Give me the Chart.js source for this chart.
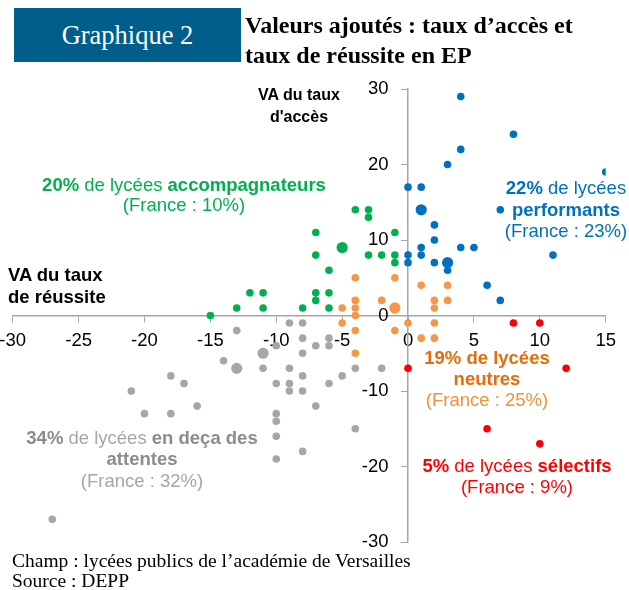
<!DOCTYPE html>
<html lang="fr">
<head>
<meta charset="utf-8">
<title>Graphique 2</title>
<script src="https://cdn.jsdelivr.net/npm/chart.js@4.4.1/dist/chart.umd.min.js"></script>
<style>
  body { margin: 0; background: #fff; }
  #page { position: relative; width: 629px; height: 590px; overflow: hidden; }
  #graph { position: absolute; left: 0; top: 0; }
  .txt { position: absolute; white-space: nowrap; font-family: "Liberation Sans", Arial, sans-serif; font-size: 18.5px; }
  .c { text-align: center; transform: translateX(-50%); }
  .serif { font-family: "Liberation Serif", "Times New Roman", serif; }
  #cartouche { position: absolute; left: 14px; top: 8px; width: 227px; height: 54px; background: #005e8a;
    color: #fff; font: 26.5px "Liberation Serif", serif; text-align: center; line-height: 54px; }
</style>
</head>
<body>
<div id="page">
  <canvas id="graph" width="629" height="590"></canvas>
  <div id="cartouche">Graphique 2</div>
  <div class="txt serif" style="left:245px;top:10px;font-size:24px;font-weight:bold;line-height:30px;">Valeurs ajoutés : taux d’accès et<br>taux de réussite en EP</div>

  <div class="txt c" style="left:299px;top:84px;font-size:16px;font-weight:bold;line-height:22px;color:#000;">VA du taux<br>d'accès</div>
  <div class="txt" style="left:8px;top:264px;font-weight:bold;line-height:22px;color:#000;">VA du taux<br>de réussite</div>

  <div class="txt c" style="left:184px;top:175px;line-height:20px;color:#00b050;"><b>20%</b> de lycées <b>accompagnateurs</b><br>(France : 10%)</div>
  <div class="txt c" style="left:566px;top:177px;line-height:21.5px;color:#0070c0;"><b>22%</b> de lycées<br><b>performants</b><br>(France : 23%)</div>
  <div class="txt c" style="left:487px;top:347px;line-height:21px;color:#f0913a;"><b style="color:#e46c0a">19% de lycées<br>neutres</b><br>(France : 25%)</div>
  <div class="txt c" style="left:517px;top:455px;line-height:21px;color:#ff0000;"><b>5%</b> de lycées <b>sélectifs</b><br>(France : 9%)</div>
  <div class="txt c" style="left:142px;top:427px;line-height:21.3px;color:#a6a6a6;"><b style="color:#8c8c8c">34%</b> de lycées <b style="color:#8c8c8c">en deça des<br>attentes</b><br>(France : 32%)</div>

  <div class="txt serif" style="left:12px;top:551px;font-size:19.5px;line-height:19.5px;color:#000;">Champ : lycées publics de l’académie de Versailles<br>Source : DEPP</div>
</div>
<script>
// VA du taux de réussite (x) / VA du taux d'accès (y), par type de lycée
var performants = [[4,29],[8,24],[4,22],[3,20],[15,19],[0,17],[1,17],[1,14],[7,14],[2,12],[2,10],[1,9],
  [4,9],[5,9],[0,8],[1,8],[11,8],[0,7],[2,7],[3,7],[3,6],[6,4],[7,2]];
var accompagnateurs = [[-15,0],[-13,1],[-12,3],[-11,3],[-11,1],[-8,1],[-7,11],[-7,8],[-7,3],[-7,2],[-6,6],
  [-6,3],[-6,1],[-5,9],[-4,14],[-3,14],[-3,13],[-3,8],[-2,8],[-1,11],[-1,8],[-1,7]];
var neutres = [[-4,5],[-1,5],[1,4],[3,4],[-4,2],[-2,2],[2,2],[3,2],[-5,1],[-4,1],[-1,1],[2,1],[-4,0],
  [-5,-1],[0,-1],[2,-1],[-1,-2],[-4,-2],[1,-3],[2,-3],[-4,-5]];
var enDeca = [[-9,-1],[-8,-1],[-13,-2],[-8,-3],[-6,-3],[-10,-4],[-7,-4],[-6,-4],[-11,-5],[-8,-5],[-14,-6],
  [-13,-7],[-11,-7],[-9,-7],[-4,-7],[-2,-7],[-18,-8],[-8,-8],[-5,-8],[-17,-9],[-10,-9],[-9,-9],[-6,-9],
  [-21,-10],[-9,-10],[-8,-10],[-20,-13],[-18,-13],[-16,-12],[-7,-12],[-10,-13],[-10,-14],[-10,-16],
  [-4,-15],[-8,-18],[-10,-19],[-27,-27]];
var selectifs = [[8,-1],[10,-1],[0,-7],[12,-7],[6,-15],[10,-17]];
// points où deux lycées se superposent
var doublons = [[1,14],[3,7],[-5,9],[-1,1],[-11,-5],[-13,-7]];

var xTicks = [-30, -25, -20, -15, -10, -5, 0, 5, 10, 15];
var yTicks = [-30, -20, -10, 0, 10, 20, 30];

function toPoints(list) {
  return list.map(function(p) { return {x: p[0], y: p[1]}; });
}
function rayon(list) {
  return list.map(function(p) {
    var dbl = doublons.some(function(d) { return d[0] === p[0] && d[1] === p[1]; });
    return dbl ? 5.6 : 3.8;
  });
}
function serie(label, list, color) {
  return {
    label: label,
    data: toPoints(list),
    backgroundColor: color,
    borderColor: color,
    borderWidth: 0,
    pointRadius: rayon(list)
  };
}

var axisFont = {family: '"Liberation Sans", Arial, sans-serif', size: 18.5};

// les axes se croisent en (0,0) : pas de marge due aux libellés
function noPad(axis) {
  axis.paddingLeft = 0; axis.paddingRight = 0;
  axis.paddingTop = 0; axis.paddingBottom = 0;
}

new Chart(document.getElementById('graph'), {
  type: 'scatter',
  data: {
    datasets: [
      serie('En deçà des attentes', enDeca, '#a6a6a6'),
      serie('Neutres', neutres, '#f79646'),
      serie('Accompagnateurs', accompagnateurs, '#00b050'),
      serie('Performants', performants, '#0070c0'),
      serie('Sélectifs', selectifs, '#ff0000')
    ]
  },
  options: {
    responsive: false,
    animation: false,
    layout: {padding: {left: 12.7, right: 23.3, top: 89, bottom: 48}},
    plugins: {legend: {display: false}, tooltip: {enabled: false}},
    scales: {
      x: {
        type: 'linear', min: -30, max: 15,
        position: {y: 0},
        afterFit: noPad,
        afterBuildTicks: function(axis) { axis.ticks = xTicks.map(function(v) { return {value: v}; }); },
        ticks: {color: '#000', font: axisFont, padding: 8.5, autoSkip: false, maxRotation: 0},
        grid: {drawOnChartArea: false, color: '#a6a6a6', tickLength: 6},
        border: {color: '#a6a6a6', width: 1.5}
      },
      y: {
        type: 'linear', min: -30, max: 30,
        position: {x: 0},
        afterFit: noPad,
        afterBuildTicks: function(axis) { axis.ticks = yTicks.map(function(v) { return {value: v}; }); },
        ticks: {
          color: '#000', font: axisFont, autoSkip: false,
          callback: function(v) { return v + '\u2007\u2002'; }
        },
        grid: {drawOnChartArea: false, color: '#a6a6a6', tickLength: 6},
        border: {color: '#a6a6a6', width: 1.5}
      }
    }
  }
});
</script>
</body>
</html>
